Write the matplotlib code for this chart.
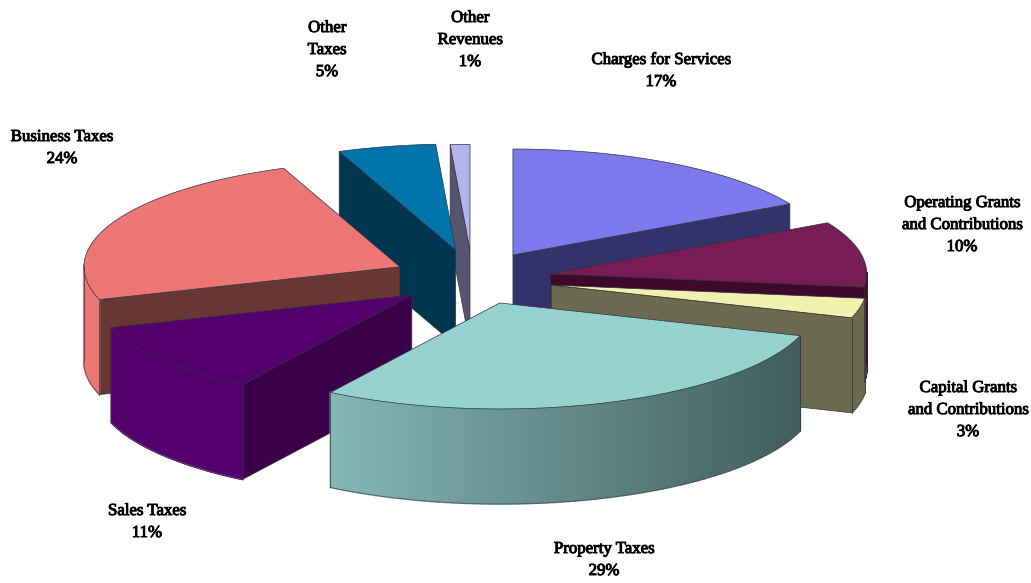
import numpy as np
import matplotlib
matplotlib.use('Agg')
import matplotlib.pyplot as plt
import matplotlib.patheffects as pe
from matplotlib.colors import to_rgb
from matplotlib.patches import Polygon

labels = ['Charges for Services\n17%', 'Operating Grants\nand Contributions\n10%',
          'Capital Grants\nand Contributions\n3%', 'Property Taxes\n29%', 'Sales Taxes\n11%',
          'Business Taxes\n24%', 'Other\nTaxes\n5%', 'Other\nRevenues\n1%']
shares = [17, 10, 3, 29, 11, 24, 5, 1]

top_colors = ['#7b7bee', '#771c55', '#f1f1ae', '#96d2d0', '#55006f', '#ee7776', '#0074ad', '#b4b4ee']
wall_colors = ['#33336b', '#3d0a2c', '#6b6b50', '#3f5a5b', '#3a004a', '#683633', '#003650', '#55556f']
rim_light = ['#7b7bee', '#771c55', '#6b6b50', '#9ad3d2', '#55006f', '#ee7776', '#0074ad', '#b4b4ee']
rim_dark = ['#33336b', '#3d0a2c', '#6b6b50', '#3f5a5b', '#55006f', '#ee7776', '#003650', '#55556f']

# how far each slice is pulled out, x and y separately
explode_x = [0.267, 0.26, 0.263, 0.278, 0.233, 0.245, 0.21, 0.0]
explode_y = [0.263, 0.26, 0.26, 0.24, 0.245, 0.27, 0.28, 0.27]
draw_order = [7, 6, 0, 5, 1, 2, 4, 3]

label_x = [661, 962, 968, 604, 147, 62, 327, 470]
label_y = [71, 225, 410, 560, 522, 148, 50, 40]

cx, cy = 470, 279
rx, ry = 316, 106
depth = 95
line = '#30303a'

fig = plt.figure(figsize=(10.31, 5.83), dpi=100)
ax = fig.add_axes([0, 0, 1, 1])
ax.set_xlim(0, 1031)
ax.set_ylim(583, 0)
ax.axis('off')


def rim_point(x0, y0, a):
    return x0 + rx * np.sin(a), y0 - ry * np.cos(a)


edges = np.radians(np.cumsum([0] + shares) * 3.6)

for i in draw_order:
    a0, a1 = edges[i], edges[i + 1]
    mid = (a0 + a1) / 2
    x0 = cx + explode_x[i] * rx * np.sin(mid)
    y0 = cy - explode_y[i] * ry * np.cos(mid)
    aa = np.linspace(a0, a1, 80)
    xs, ys = rim_point(x0, y0, aa)

    # only the cut walls that face the viewer
    for a, seen in ((a0, np.sin(a0) < 0), (a1, np.sin(a1) > 0)):
        if not seen:
            continue
        ex, ey = rim_point(x0, y0, a)
        ax.add_patch(Polygon([(x0, y0), (ex, ey), (ex, ey + depth), (x0, y0 + depth)],
                             fc=wall_colors[i], ec=line, lw=0.5))

    # outer rim, shaded from left to right
    light, dark = np.array(to_rgb(rim_light[i])), np.array(to_rgb(rim_dark[i]))
    for k in range(len(aa) - 1):
        if np.cos((aa[k] + aa[k + 1]) / 2) > 0.02:
            continue
        t = (np.sin(aa[k]) + 1) / 2
        c = light + (dark - light) * t
        ax.add_patch(Polygon([(xs[k], ys[k]), (xs[k + 1], ys[k + 1]),
                              (xs[k + 1], ys[k + 1] + depth), (xs[k], ys[k] + depth)],
                             fc=c, ec=c, lw=1.2))
    front = np.cos(aa) <= 0.02
    if front.any():
        ax.plot(xs[front], ys[front] + depth, color='#555560', lw=0.6)
        for a in (aa[front][0], aa[front][-1]):
            ex, ey = rim_point(x0, y0, a)
            ax.plot([ex, ex], [ey, ey + depth], color=line, lw=0.5)

    ax.add_patch(Polygon(np.column_stack([np.r_[x0, xs], np.r_[y0, ys]]),
                         fc=top_colors[i], ec=line, lw=0.5))

for s, x, y in zip(labels, label_x, label_y):
    ax.text(x, y, s, ha='center', va='center', fontsize=12.1, family='Liberation Serif',
            color='black', linespacing=1.5,
            path_effects=[pe.withStroke(linewidth=0.7, foreground='black')])

fig.savefig('out.png', dpi=100)
